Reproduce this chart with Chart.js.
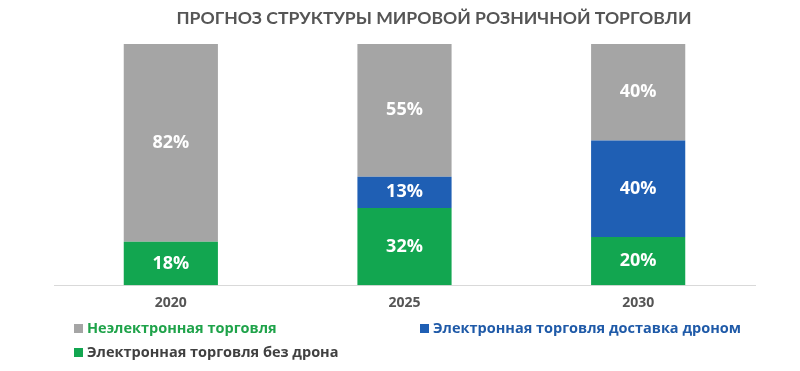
<!DOCTYPE html>
<html>
<head>
<meta charset="utf-8">
<script src="https://cdn.jsdelivr.net/npm/chart.js@4"></script>
<style>
  body { margin: 0; background: #fff; }
  #wrap { position: relative; width: 800px; height: 371px; }
  .leg { position: absolute; font: bold 14.5px "Open Sans", sans-serif; line-height: 20px; white-space: nowrap; }
  .leg i { display: inline-block; width: 9px; height: 9px; margin-right: 4px; }
</style>
</head>
<body>
<div id="wrap">
  <canvas id="chart" width="800" height="371"></canvas>
  <div class="leg" style="left:74px;top:318px;color:#1fa34a"><i style="background:#a5a5a5"></i>Неэлектронная торговля</div>
  <div class="leg" style="left:420px;top:318px;color:#1f5aa8"><i style="background:#1f5fb4"></i>Электронная торговля доставка дроном</div>
  <div class="leg" style="left:74px;top:342px;color:#404040"><i style="background:#12a650"></i>Электронная торговля без дрона</div>
</div>
<script>
// Прогноз структуры мировой розничной торговли

const years = ['2020', '2025', '2030']
const noDrone = [18, 32, 20]
const drone = [0, 13, 40]
const offline = [82, 55, 40]

const titleText = 'ПРОГНОЗ СТРУКТУРЫ МИРОВОЙ РОЗНИЧНОЙ ТОРГОВЛИ'

const titlePlugin = {
    id: 'titleText',
    afterDraw(chart) {
        const c = chart.ctx
        c.save()
        c.font = 'bold 17.6px Lato, "Open Sans", sans-serif'
        c.fillStyle = '#555555'
        c.textAlign = 'center'
        c.textBaseline = 'middle'
        c.fillText(titleText, 434, 18)
        c.restore()
    }
}

const valueLabels = {
    id: 'valueLabels',
    afterDatasetsDraw(chart) {
        const c = chart.ctx
        c.save()
        c.font = 'bold 18px "Open Sans", sans-serif'
        c.fillStyle = '#ffffff'
        c.textAlign = 'center'
        c.textBaseline = 'middle'
        chart.data.datasets.forEach((ds, i) => {
            chart.getDatasetMeta(i).data.forEach((bar, j) => {
                const v = ds.data[j]
                if (!v) return
                c.fillText(v + '%', bar.x, (bar.y + bar.base) / 2)
            })
        })
        c.restore()
    }
}

const chart = new Chart(document.getElementById('chart').getContext('2d'),
    {
        type: 'bar',
        data: {
            labels: years,
            datasets: [
                { label: 'Электронная торговля без дрона', data: noDrone, backgroundColor: '#12a650' },
                { label: 'Электронная торговля доставка дроном', data: drone, backgroundColor: '#1f5fb4' },
                { label: 'Неэлектронная торговля', data: offline, backgroundColor: '#a5a5a5' }
            ]
        },
        options: {
            responsive: false,
            animation: false,
            layout: { padding: { top: 44, left: 54, right: 45, bottom: 51 } },
            datasets: { bar: { barPercentage: 0.403, categoryPercentage: 1 } },
            plugins: { legend: { display: false }, tooltip: { enabled: false } },
            scales: {
                x: {
                    stacked: true,
                    grid: { display: false, drawTicks: false },
                    border: { color: '#d9d9d9' },
                    ticks: { padding: 9, color: '#555555', font: { family: '"Open Sans", sans-serif', size: 14, weight: 'bold' } }
                },
                y: { stacked: true, display: false, min: 0, max: 100 }
            }
        },
        plugins: [titlePlugin, valueLabels]
    })
</script>
</body>
</html>
